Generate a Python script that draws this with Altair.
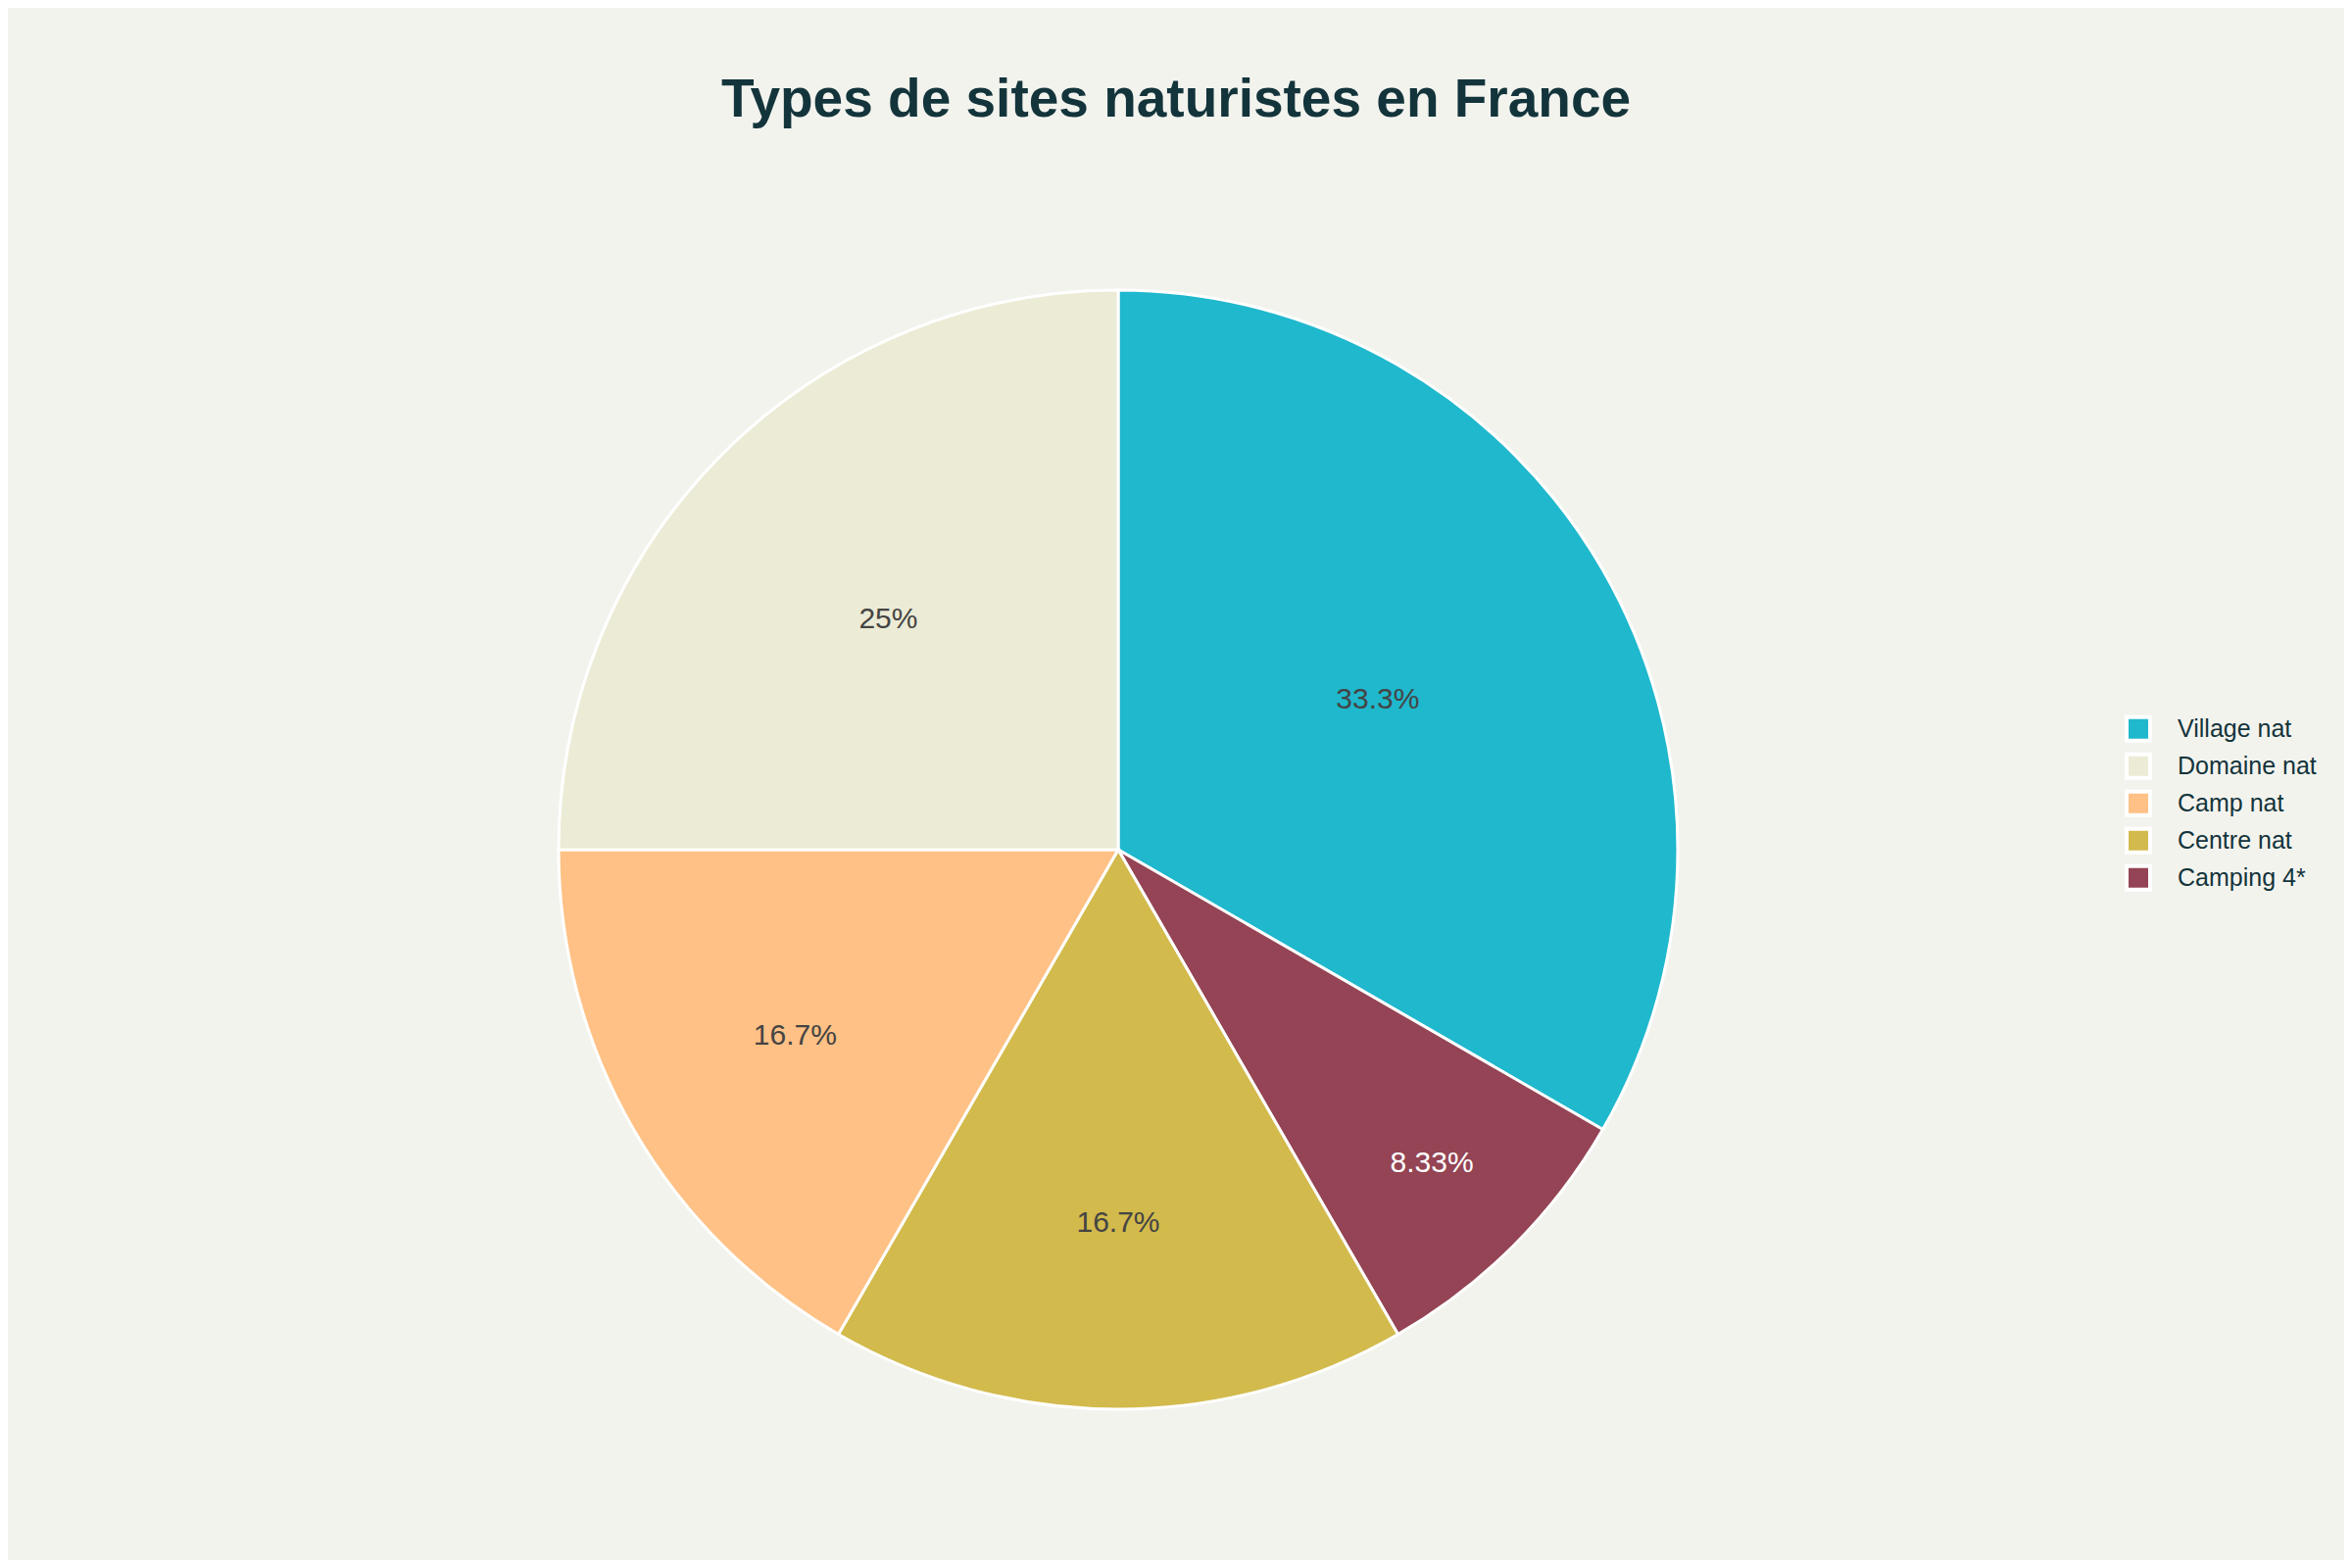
import altair as alt
import pandas as pd

TITLE = "Types de sites naturistes en France"

# slices in drawing order (clockwise from 12 o'clock)
categories = ["Village nat", "Camping 4*", "Centre nat", "Camp nat", "Domaine nat"]
counts = [4, 1, 2, 2, 3]

# legend order and colours
legend_order = ["Village nat", "Domaine nat", "Camp nat", "Centre nat", "Camping 4*"]
legend_colors = ["#1FB8CD", "#ECEBD5", "#FFC185", "#D2BA4C", "#944454"]

df = pd.DataFrame({"type": categories, "count": counts})
title_df = pd.DataFrame({"t": [TITLE]})

W, H = 2384, 1584
CX, CY, R = 1133, 859, 571
FONT = "Liberation Sans"

base = (
    alt.Chart(df)
    .transform_window(slice_order="row_number()")
    .transform_joinaggregate(total="sum(count)")
    .transform_window(cum="sum(count)", sort=[alt.SortField("slice_order")], frame=[None, 0])
    .transform_calculate(
        frac="datum.count / datum.total",
        mid_angle="(datum.cum - datum.count / 2) / datum.total * 2 * PI",
    )
    .transform_calculate(
        label_r=f"{R} * (0.959 - 2.237 * datum.frac + 2.90 * datum.frac * datum.frac)"
    )
)

pie = base.mark_arc(outerRadius=R, stroke="white", strokeWidth=3).encode(
    theta=alt.Theta("count:Q", stack=True),
    order=alt.Order("slice_order:Q"),
    color=alt.Color(
        "type:N",
        scale=alt.Scale(domain=legend_order, range=legend_colors),
        legend=alt.Legend(
            title=None,
            orient="none",
            legendX=2160,
            legendY=717,
            symbolType="square",
            symbolSize=576,
            symbolStrokeColor="white",
            symbolStrokeWidth=4,
            symbolOpacity=1,
            labelFontSize=25,
            labelFont=FONT,
            labelColor="#13343B",
            labelOffset=26,
            rowPadding=0,
            clipHeight=37.5,
            padding=0,
        ),
    ),
    x=alt.value(CX),
    y=alt.value(CY),
)

labels = base.mark_text(fontSize=30, font=FONT, align="center", baseline="middle").encode(
    theta=alt.Theta("mid_angle:Q", scale=None),
    radius=alt.Radius("label_r:Q", scale=None),
    text=alt.Text("frac:Q", format=".3~p"),
    color=alt.condition(alt.datum.type == "Camping 4*", alt.value("white"), alt.value("#444444")),
    x=alt.value(CX),
    y=alt.value(CY),
)

title = alt.Chart(title_df).mark_text(
    fontSize=55, fontWeight="bold", font=FONT, color="#13343B",
    align="center", baseline="alphabetic",
).encode(text="t:N", x=alt.value(1192), y=alt.value(111))

chart = (
    alt.layer(pie, labels, title)
    .properties(
        width=W,
        height=H,
        autosize=alt.AutoSizeParams(type="none"),
        padding=0,
        background="#F3F3EE",
    )
    .configure_view(stroke=None)
)

chart.save("out.html", embed_options={"renderer": "svg", "actions": False})
